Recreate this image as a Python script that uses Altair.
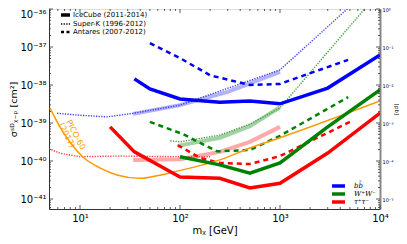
import altair as alt
import pandas as pd
import numpy as np

# ---------------- data (mass in GeV, sigma in cm^2) ----------------
icecube_bb_m = [35, 50, 100, 250, 500, 1000, 3000, 10000]
icecube_bb_s = [1.45e-38, 7.9e-39, 4.3e-39, 3.5e-39, 3.8e-39, 3.2e-39, 8.3e-39, 6.2e-38]
icecube_ww_m = [100, 250, 500, 1000, 3000, 10000]
icecube_ww_s = [1.3e-40, 7.9e-41, 4.8e-41, 8.9e-41, 7.9e-40, 7.4e-39]
icecube_tt_m = [20, 35, 100, 250, 500, 1000, 3000, 10000]
icecube_tt_s = [7.9e-40, 1.74e-40, 3.8e-41, 3.5e-41, 1.95e-41, 2.6e-41, 1.62e-40, 1.82e-39]

superk_bb_m = [5.9, 10, 18.6, 34, 100, 1000, 4700, 10000]
superk_bb_s = [1.8e-39, 1.6e-39, 1.45e-39, 1.8e-39, 2.95e-39, 2.5e-38, 1.0e-36, 6.3e-36]
superk_ww_m = [80, 100, 250, 500, 1000, 7000, 10000]
superk_ww_s = [3.4e-40, 3.2e-40, 4.8e-40, 9.3e-40, 2.5e-39, 1.0e-36, 2.9e-36]
superk_tt_m = [4.9, 6.3, 10, 25, 100, 200]
superk_tt_s = [2.1e-40, 1.6e-40, 1.3e-40, 1.35e-40, 1.3e-40, 1.3e-40]

antares_bb_m = [50, 100, 200, 500, 1000, 4800]
antares_bb_s = [1.27e-37, 5.1e-38, 1.8e-38, 1.0e-38, 1.07e-38, 4.6e-38]
antares_ww_m = [50, 107, 234, 500, 1000, 4800]
antares_ww_s = [1.07e-39, 5.1e-40, 1.8e-40, 1.95e-40, 4.6e-40, 4.8e-39]
antares_tt_m = [95, 160, 250, 500, 1000, 5000]
antares_tt_s = [2.6e-40, 1.2e-40, 8.9e-41, 8.3e-41, 1.35e-40, 1.07e-39]

light_bb_m = [34, 100, 300, 1000]
light_bb_s = [1.74e-39, 2.95e-39, 6.6e-39, 2.2e-38]
light_ww_m = [95, 250, 500, 1000]
light_ww_s = [2.5e-40, 4.1e-40, 8.3e-40, 2.6e-39]
light_tt_m = [34, 100, 250, 500, 1000]
light_tt_s = [1.07e-40, 1.12e-40, 1.74e-40, 3.2e-40, 7.9e-40]

pico_m = [5.0, 6.3, 7.9, 10.7, 15.8, 23.4, 40, 59, 85, 250, 500, 1000, 10000]
pico_s = [2.5e-39, 7.9e-40, 3.2e-40, 1.27e-40, 6.6e-41, 4.3e-41, 3.5e-41, 4.1e-41,
          5.1e-41, 1.07e-40, 2.2e-40, 4.1e-40, 3.8e-39]

x_ticks = [10, 100, 1000, 10000]
x_tick_labels = ["10¹", "10²", "10³", "10⁴"]
y_ticks = [1e-41, 1e-40, 1e-39, 1e-38, 1e-37, 1e-36]
y_tick_labels = ["10⁻⁴¹", "10⁻⁴⁰", "10⁻³⁹", "10⁻³⁸", "10⁻³⁷", "10⁻³⁶"]
pb_ticks = [1e-5, 1e-4, 1e-3, 1e-2, 1e-1, 1]
pb_tick_labels = ["10⁻⁵", "10⁻⁴", "10⁻³", "10⁻²", "10⁻¹", "10⁰"]

legend1_labels = ["IceCube (2011-2014)", "Super-K (1996-2012)", "Antares (2007-2012)"]
legend2_labels = ["bb̄", "W⁺W⁻", "τ⁺τ⁻"]
legend2_colors = ["#0000ff", "#008000", "#ff0000"]

# ---------------- scales ----------------
XMIN, XMAX = 10 ** 0.69, 1e4
YMIN, YMAX = 10 ** -41.263, 1e-36
W, H = 331, 200

xlab = "{" + ",".join(f"'{int(round(np.log10(v)))}':'{l}'" for v, l in zip(x_ticks, x_tick_labels)) + "}"
ylab = "{" + ",".join(f"'{int(round(np.log10(v)))}':'{l}'" for v, l in zip(y_ticks, y_tick_labels)) + "}"
plab = "{" + ",".join(f"'{int(round(np.log10(v)))}':'{l}'" for v, l in zip(pb_ticks, pb_tick_labels)) + "}"

xscale = alt.Scale(type="log", domain=[XMIN, XMAX], nice=False)
yscale = alt.Scale(type="log", domain=[YMIN, YMAX], nice=False)

X = alt.X("m:Q", scale=xscale, axis=alt.Axis(
    title="mᵪ [GeV]", values=x_ticks, labelExpr=f"{xlab}[round(log(datum.value)/LN10)]",
    ticks=False, grid=False, labelFontSize=10, titleFontSize=10, titleFontWeight="normal",
    labelPadding=4, titlePadding=2, labelFlush=False, labelBound=False, domainColor="#333",
    labelColor="black", titleColor="black", labelFont="DejaVu Sans", titleFont="DejaVu Sans"))
Y = alt.Y("s:Q", scale=yscale, axis=alt.Axis(
    title="σˢᴰᵪ₋ₚ [cm²]", values=y_ticks, labelExpr=f"{ylab}[round(log(datum.value)/LN10)]",
    ticks=False, grid=False, labelFontSize=10, titleFontSize=9.5, titleFontWeight="normal",
    labelPadding=3, titlePadding=1, labelFlush=True, labelBound=False, domainColor="#333",
    labelColor="black", titleColor="black", labelFont="DejaVu Sans", titleFont="DejaVu Sans"))


def series(m, s, color, width, dash=None, opacity=1.0, interp="linear"):
    df = pd.DataFrame({"m": m, "s": s})
    kw = dict(color=color, strokeWidth=width, opacity=opacity, clip=True,
              interpolate=interp, strokeCap="butt")
    if dash:
        kw["strokeDash"] = dash
    return alt.Chart(df).mark_line(**kw).encode(x=X, y=Y)


layers = []
# light thick bands
layers.append(series(light_bb_m, light_bb_s, "#7f7fff", 4, opacity=0.6))
layers.append(series(light_ww_m, light_ww_s, "#66b266", 4, opacity=0.6))
layers.append(series(light_tt_m, light_tt_s, "#ff7070", 4, opacity=0.6))
# Super-K dotted
layers.append(series(superk_bb_m, superk_bb_s, "#4040ff", 1.4, [1.3, 1.3]))
layers.append(series(superk_ww_m, superk_ww_s, "#40a040", 1.4, [1.3, 1.3]))
layers.append(series(superk_tt_m, superk_tt_s, "#ff4040", 1.4, [1.3, 1.3]))
# Antares dashed
layers.append(series(antares_bb_m, antares_bb_s, "#0000ff", 2.5, [5, 4]))
layers.append(series(antares_ww_m, antares_ww_s, "#008000", 2.5, [5, 4]))
layers.append(series(antares_tt_m, antares_tt_s, "#ff0000", 2.5, [5, 4]))
# PICO-60
layers.append(series(pico_m, pico_s, "#ff9900", 1.5, interp="monotone"))
# IceCube solid
layers.append(series(icecube_bb_m, icecube_bb_s, "#0000ff", 3.5))
layers.append(series(icecube_ww_m, icecube_ww_s, "#008000", 3.5))
layers.append(series(icecube_tt_m, icecube_tt_s, "#ff0000", 3.5))

# PICO-60 label
pico_lab = pd.DataFrame({"m": [9.0, 7.3], "s": [10 ** -39.316, 10 ** -39.33],
                         "t": ["PICO-60", "(2017)"]})
layers.append(alt.Chart(pico_lab).mark_text(angle=63, color="#ff9900", fontSize=8,
                                            font="DejaVu Sans").encode(x=X, y=Y, text="t:N"))

# inward ticks (all four sides)
xmin_t = [k * 10 ** d for d in range(0, 4) for k in range(2, 10) if XMIN <= k * 10 ** d <= XMAX]
ymin_t = [k * 10 ** d for d in range(-42, -36) for k in range(2, 10) if YMIN <= k * 10 ** d <= YMAX]
for vals, ln in ((x_ticks, 4), (xmin_t, 2)):
    d = pd.DataFrame({"m": vals})
    layers.append(alt.Chart(d).mark_rule(color="#333", strokeWidth=0.8).encode(
        x=X, y=alt.value(H), y2=alt.value(H - ln)))
    layers.append(alt.Chart(d).mark_rule(color="#333", strokeWidth=0.8).encode(
        x=X, y=alt.value(0), y2=alt.value(ln)))
for vals, ln in ((y_ticks, 4), (ymin_t, 2)):
    d = pd.DataFrame({"s": vals})
    layers.append(alt.Chart(d).mark_rule(color="#333", strokeWidth=0.8).encode(
        y=Y, x=alt.value(0), x2=alt.value(ln)))
    layers.append(alt.Chart(d).mark_rule(color="#333", strokeWidth=0.8).encode(
        y=Y, x=alt.value(W), x2=alt.value(W - ln)))

# legend 1 (line styles)
base = alt.Chart(pd.DataFrame({"a": [0]}))
leg_y = [6, 15, 23]
layers.append(base.mark_rule(color="black", strokeWidth=3.5).encode(
    x=alt.value(12), x2=alt.value(21), y=alt.value(leg_y[0])))
layers.append(base.mark_rule(color="black", strokeWidth=1.4, strokeDash=[1.3, 1.3]).encode(
    x=alt.value(12), x2=alt.value(21), y=alt.value(leg_y[1])))
layers.append(base.mark_rule(color="black", strokeWidth=2.5, strokeDash=[3, 2.5]).encode(
    x=alt.value(12), x2=alt.value(21), y=alt.value(leg_y[2])))
leg1 = pd.DataFrame({"t": legend1_labels, "yy": leg_y})
layers.append(alt.Chart(leg1).mark_text(align="left", baseline="middle", fontSize=7,
                                        font="DejaVu Sans", color="black").encode(
    x=alt.value(24), y=alt.Y("yy:Q", scale=None), text="t:N"))

# legend 2 (channel colours)
leg2_y = [177, 185, 193]
for c, yy in zip(legend2_colors, leg2_y):
    layers.append(base.mark_rule(color=c, strokeWidth=3.5).encode(
        x=alt.value(283), x2=alt.value(296), y=alt.value(yy)))
leg2 = pd.DataFrame({"t": legend2_labels, "yy": leg2_y})
layers.append(alt.Chart(leg2).mark_text(align="left", baseline="middle", fontSize=7,
                                        font="DejaVu Serif", fontStyle="italic",
                                        color="black").encode(
    x=alt.value(305), y=alt.Y("yy:Q", scale=None), text="t:N"))

main = alt.layer(*layers)

# right axis in pb
pb_df = pd.DataFrame({"pb": pb_ticks})
right = alt.Chart(pb_df).mark_point(opacity=0).encode(
    y=alt.Y("pb:Q", scale=alt.Scale(type="log", domain=[YMIN * 1e36, 1.0], nice=False),
            axis=alt.Axis(orient="right", title="[pb]", values=pb_ticks,
                          labelExpr=f"{plab}[round(log(datum.value)/LN10)]",
                          ticks=False, grid=False, labelFontSize=5, titleFontSize=5.5,
                          titleFontWeight="normal", labelPadding=2, titlePadding=0,
                          labelFlush=False, labelBound=False, domainColor="#888",
                          domainWidth=2, labelColor="black", titleColor="black",
                          labelFont="DejaVu Sans", titleFont="DejaVu Sans")))

chart = alt.layer(main, right).resolve_scale(y="independent").properties(
    width=W, height=H,
    autosize=alt.AutoSizeParams(type="none"),
    padding={"left": 41, "top": 1, "right": 19, "bottom": 27},
).configure_view(stroke="#888", strokeWidth=1.5).configure(background="white")

chart.save("out.html", embed_options={"renderer": "svg", "actions": False})
